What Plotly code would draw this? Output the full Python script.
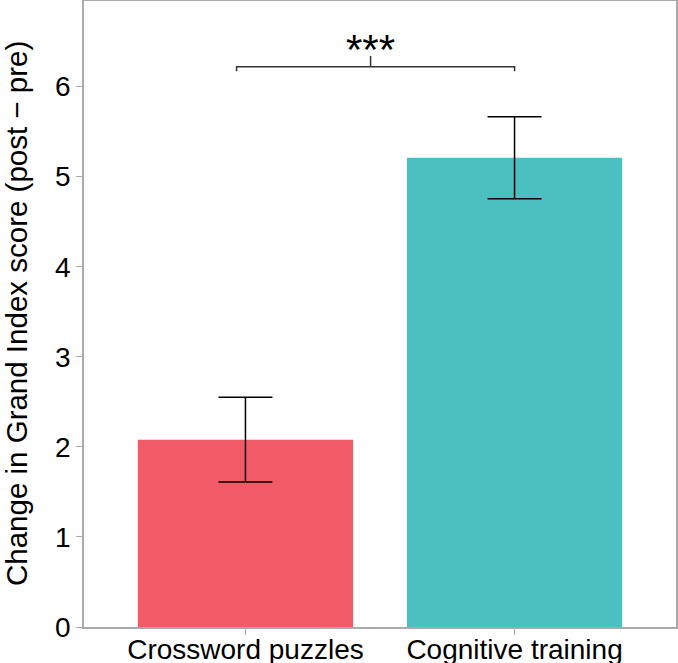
import plotly.graph_objects as go

# data
groups = ["Crossword puzzles", "Cognitive training"]
means = [2.08, 5.21]
errs = [0.47, 0.455]
colors = ["#F25A67", "#4BC0C0"]

# significance bracket (data coords)
bracket_x = [-0.033, -0.033, 1.0, 1.0]
bracket_y = [6.17, 6.22, 6.22, 6.17]
mid_x = 0.465
mid_y = [6.22, 6.34]
star_label = "***"
star_y = 6.41

font = "Liberation Sans, Arial, sans-serif"

fig = go.Figure()
fig.add_trace(go.Bar(
    x=[0, 1], y=means, width=0.8,
    marker=dict(color=colors, line=dict(width=0)),
    error_y=dict(type="data", array=errs, color="black", thickness=1.5, width=27),
))

fig.add_trace(go.Scatter(x=bracket_x, y=bracket_y, mode="lines",
                         line=dict(color="#333333", width=1.5), hoverinfo="skip"))
fig.add_trace(go.Scatter(x=[mid_x, mid_x], y=mid_y, mode="lines",
                         line=dict(color="#333333", width=1.5), hoverinfo="skip"))
fig.add_annotation(x=mid_x, y=star_y, text=star_label, showarrow=False,
                   font=dict(size=42, color="black", family=font), yanchor="middle")

# y axis title as annotation so it sits where the reference has it
fig.add_annotation(xref="paper", yref="paper", x=0, y=0.5, xshift=-68,
                   xanchor="center", yanchor="middle",
                   text="Change in Grand Index score (post \u2212 pre)",
                   textangle=-90, showarrow=False,
                   font=dict(size=29.5, color="black", family=font))

fig.update_layout(
    width=678, height=663,
    margin=dict(l=84, r=2, t=1, b=36),
    plot_bgcolor="white", paper_bgcolor="white",
    showlegend=False, bargap=0.2,
    font=dict(family=font, color="black", size=28),
)
fig.update_xaxes(
    range=[-0.6, 1.6], tickvals=[0, 1], ticktext=groups,
    showgrid=False, zeroline=False, automargin=False,
    showline=True, linecolor="#aaaaaa", linewidth=1.5, mirror=True,
    ticks="outside", ticklen=6, tickcolor="#aaaaaa",
    tickfont=dict(size=28, color="black"), ticklabelstandoff=-9,
)
fig.update_yaxes(
    range=[0, 6.95], tickvals=[0, 1, 2, 3, 4, 5, 6],
    showgrid=False, zeroline=False, automargin=False,
    showline=True, linecolor="#aaaaaa", linewidth=1.5, mirror=True,
    ticks="outside", ticklen=6, tickcolor="#aaaaaa",
    tickfont=dict(size=28, color="black"),
)

# drop the browser's default 8px body margin so the figure fills the window
fig.write_html("out.html", config={"displayModeBar": False},
               post_script="document.body.style.margin='0';")
